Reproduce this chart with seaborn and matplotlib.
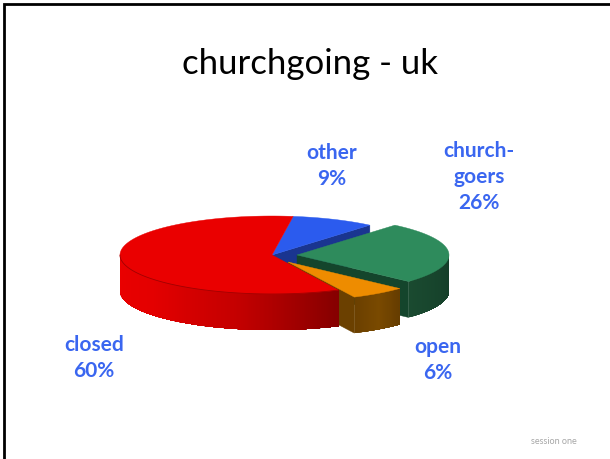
#coding=utf-8
import matplotlib.pyplot as plt
import numpy as np
import seaborn as sns

sns.set_theme(style="white")
plt.rcParams['font.family'] = ['Lato', 'DejaVu Sans']

# data
categories = ['closed', 'open', 'church-\ngoers', 'other']
shares = [60, 6, 26, 9]
title = 'churchgoing - uk'
footer = 'session one'

top_colors = ['#ea0000', '#ee8c00', '#2e8b5c', '#2b5bee']
cut_colors = ['#8b0000', '#6b4000', '#14452c', '#1a3590']
side_ramps = [['#ea0000', '#e40000', '#c40000', '#860000'],
              ['#6b4000', '#7a4a00', '#663d00'],
              ['#1a4a30', '#143d28'],
              ['#1a3590', '#1a3590']]

# pie geometry, in pixels of the slide
cx, cy = 272, 255
rx, ry = 152, 39
depth = 36
start = 82
offsets = [(0, 0), (16, 7), (25, 0), (0, 0)]
label_pos = [(94, 358), (438, 360), (479, 177), (332, 166)]

fig = plt.figure(figsize=(6.10, 4.59), dpi=100)
ax = fig.add_axes([0, 0, 1, 1])
ax.set_xlim(0, 610)
ax.set_ylim(459, 0)
ax.axis('off')

# angles of each slice, going counter-clockwise from the top
fracs = np.array(shares, dtype=float) / sum(shares) * 360
ends = start + np.cumsum(fracs)
starts = ends - fracs


def rim(i, a):
    t = np.radians(a)
    return (cx + offsets[i][0] + rx * np.cos(t),
            cy + offsets[i][1] - ry * np.sin(t))


def draw_cut(i, a):
    # flat face from the apex to the rim, dropped by the depth
    ox, oy = cx + offsets[i][0], cy + offsets[i][1]
    x, y = rim(i, a)
    ax.fill([ox, x, x, ox], [oy, y, y + depth, oy + depth],
            color=cut_colors[i], lw=0.3)


def draw_side(i):
    # outer wall, only the part that faces the viewer
    a0, a1 = max(starts[i], 180), min(ends[i], 360)
    if a1 <= a0:
        return
    n = max(int(a1 - a0) * 2, 4)
    cols = sns.blend_palette(side_ramps[i], n)
    edges = np.linspace(a0, a1, n + 1)
    # each strip runs on to the far end, so the next one paints over it
    # and no seams show between strips
    for k in range(n):
        aa = np.linspace(edges[k], a1, 60)
        xs, ys = rim(i, aa)
        ax.fill(np.r_[xs, xs[::-1]], np.r_[ys, ys[::-1] + depth],
                color=cols[k], lw=0)


def draw_top(i):
    aa = np.linspace(starts[i], ends[i], 120)
    xs, ys = rim(i, aa)
    ox, oy = cx + offsets[i][0], cy + offsets[i][1]
    ax.fill(np.r_[ox, xs], np.r_[oy, ys], color=top_colors[i], lw=0.3)


# back to front: other, churchgoers, open, closed
draw_cut(3, starts[3])
draw_top(3)

draw_cut(2, starts[2])
draw_side(2)
draw_top(2)

draw_cut(1, starts[1])
draw_side(1)
draw_top(1)

draw_side(0)
draw_top(0)
aa = np.linspace(180, ends[0], 100)
xs, ys = rim(0, aa)
ax.plot(xs, ys, color='#a00000', lw=0.6)

# labels
for name, share, (lx, ly) in zip(categories, shares, label_pos):
    ax.text(lx, ly, f'{name}\n{share}%', ha='center', va='center',
            fontsize=15, fontweight='bold', color='#3a66f0', linespacing=1.38)

ax.text(310, 64, title, ha='center', va='center', fontsize=25, color='black')
ax.text(554, 441, footer, ha='center', va='center', fontsize=6.5, color='#a6a6a6')

# slide border, only top and left are in the crop
ax.plot([3.5, 3.5, 610], [459, 4, 4], color='black', lw=2, solid_joinstyle='miter')

plt.savefig('out.png', dpi=100)
